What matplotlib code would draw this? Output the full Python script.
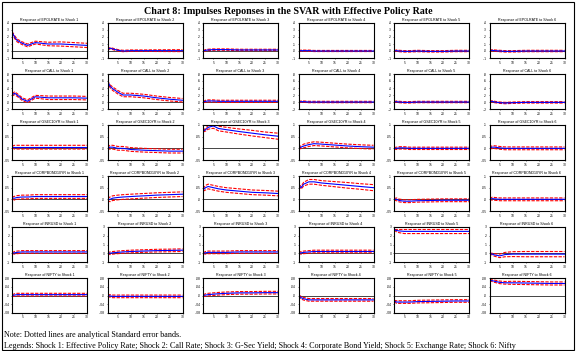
import matplotlib
matplotlib.use("Agg")
import matplotlib.pyplot as plt
from matplotlib.patches import Rectangle
from matplotlib.ticker import FuncFormatter

# Horizontes (periodos)
horizons = [1, 2, 3, 5, 7, 10, 15, 20, 25, 30]

variables = ["EPOLRATE", "CALL", "GSEC10YR", "CORPBOND10YR", "INRUSD", "NIFTY"]

# Resposta (linha azul) e erro padrao (faixas vermelhas) para cada choque 1..6
epol_resp = [
    [0.27, 0.20, 0.15, 0.11, 0.08, 0.12, 0.10, 0.10, 0.09, 0.08],
    [0.02, 0.04, 0.03, 0.01, 0.0, 0.005, 0.005, 0.005, 0.005, 0.005],
    [0.0, 0.01, 0.015, 0.02, 0.02, 0.02, 0.015, 0.015, 0.015, 0.015],
    [0.0, 0.005, 0.005, 0.005, 0.0, 0.0, 0.0, 0.0, 0.0, 0.0],
    [0.0, 0.005, 0.0, -0.005, -0.005, 0.0, -0.005, -0.005, 0.0, 0.0],
    [0.0, 0.01, 0.005, 0.0, -0.005, -0.005, 0.0, 0.0, 0.0, 0.0],
]
epol_se = [
    [0.01, 0.02, 0.02, 0.02, 0.02, 0.02, 0.025, 0.03, 0.03, 0.03],
    [0.005, 0.01, 0.01, 0.01, 0.01, 0.01, 0.01, 0.012, 0.013, 0.014],
    [0.005, 0.01, 0.01, 0.01, 0.01, 0.01, 0.01, 0.01, 0.01, 0.01],
    [0.004, 0.008, 0.008, 0.008, 0.008, 0.008, 0.008, 0.008, 0.008, 0.008],
    [0.005, 0.01, 0.01, 0.01, 0.01, 0.01, 0.01, 0.01, 0.01, 0.01],
    [0.005, 0.01, 0.01, 0.01, 0.01, 0.01, 0.01, 0.01, 0.01, 0.01],
]

call_resp = [
    [0.20, 0.25, 0.20, 0.08, 0.02, 0.15, 0.12, 0.12, 0.12, 0.11],
    [0.60, 0.45, 0.38, 0.28, 0.20, 0.20, 0.17, 0.12, 0.08, 0.05],
    [0.0, 0.02, 0.03, 0.03, 0.02, 0.02, 0.02, 0.02, 0.02, 0.02],
    [0.0, 0.01, 0.01, 0.0, 0.0, 0.0, 0.0, 0.0, 0.0, 0.0],
    [0.0, 0.01, 0.0, -0.01, -0.01, 0.0, 0.0, 0.0, 0.0, 0.0],
    [0.0, 0.02, 0.0, -0.02, -0.03, -0.02, -0.01, -0.01, -0.01, -0.01],
]
call_se = [
    [0.03, 0.04, 0.04, 0.04, 0.04, 0.04, 0.05, 0.05, 0.05, 0.05],
    [0.01, 0.04, 0.05, 0.05, 0.05, 0.05, 0.05, 0.05, 0.05, 0.05],
    [0.01, 0.03, 0.03, 0.03, 0.03, 0.03, 0.03, 0.03, 0.03, 0.03],
    [0.01, 0.02, 0.02, 0.02, 0.02, 0.02, 0.02, 0.02, 0.02, 0.02],
    [0.01, 0.02, 0.02, 0.02, 0.02, 0.02, 0.02, 0.02, 0.02, 0.02],
    [0.01, 0.02, 0.02, 0.02, 0.02, 0.02, 0.02, 0.02, 0.02, 0.02],
]

gsec_resp = [
    [0.005, 0.005, 0.005, 0.005, 0.005, 0.005, 0.005, 0.005, 0.005, 0.005],
    [0.0, 0.005, 0.005, 0.0, 0.0, -0.005, -0.008, -0.01, -0.012, -0.012],
    [0.073, 0.08, 0.09, 0.096, 0.085, 0.08, 0.072, 0.065, 0.058, 0.052],
    [0.0, 0.005, 0.01, 0.016, 0.02, 0.018, 0.014, 0.01, 0.007, 0.005],
    [0.0, 0.0, 0.002, 0.002, 0.0, 0.0, 0.0, 0.0, 0.0, 0.0],
    [0.0, 0.005, 0.005, 0.002, 0.0, 0.0, 0.0, 0.0, 0.0, 0.0],
]
gsec_se = [
    [0.004, 0.008, 0.008, 0.008, 0.008, 0.008, 0.008, 0.008, 0.008, 0.008],
    [0.004, 0.008, 0.008, 0.008, 0.008, 0.008, 0.008, 0.008, 0.008, 0.008],
    [0.003, 0.006, 0.008, 0.01, 0.01, 0.01, 0.011, 0.012, 0.012, 0.013],
    [0.003, 0.006, 0.008, 0.008, 0.008, 0.008, 0.008, 0.008, 0.008, 0.008],
    [0.003, 0.005, 0.005, 0.005, 0.005, 0.005, 0.005, 0.005, 0.005, 0.005],
    [0.003, 0.006, 0.006, 0.006, 0.006, 0.006, 0.006, 0.006, 0.006, 0.006],
]

corp_resp = [
    [0.005, 0.005, 0.008, 0.01, 0.01, 0.012, 0.012, 0.012, 0.012, 0.012],
    [0.0, 0.0, 0.005, 0.008, 0.01, 0.012, 0.015, 0.018, 0.02, 0.022],
    [0.04, 0.05, 0.055, 0.05, 0.045, 0.04, 0.035, 0.03, 0.028, 0.025],
    [0.06, 0.05, 0.065, 0.075, 0.075, 0.07, 0.065, 0.06, 0.055, 0.05],
    [0.0, 0.0, -0.005, -0.008, -0.008, -0.006, -0.005, -0.004, -0.004, -0.004],
    [0.0, 0.003, 0.002, 0.0, 0.0, 0.0, 0.0, 0.0, 0.0, 0.0],
]
corp_se = [
    [0.004, 0.008, 0.008, 0.008, 0.008, 0.008, 0.008, 0.008, 0.008, 0.008],
    [0.005, 0.01, 0.01, 0.01, 0.01, 0.01, 0.01, 0.01, 0.01, 0.01],
    [0.005, 0.01, 0.01, 0.01, 0.01, 0.01, 0.01, 0.01, 0.01, 0.01],
    [0.003, 0.006, 0.008, 0.01, 0.01, 0.01, 0.011, 0.012, 0.012, 0.013],
    [0.003, 0.006, 0.006, 0.006, 0.006, 0.006, 0.006, 0.006, 0.006, 0.006],
    [0.003, 0.006, 0.006, 0.006, 0.006, 0.006, 0.006, 0.006, 0.006, 0.006],
]

inr_resp = [
    [0.0, 0.05, 0.1, 0.15, 0.15, 0.15, 0.15, 0.15, 0.15, 0.15],
    [0.0, 0.0, 0.05, 0.1, 0.15, 0.2, 0.25, 0.3, 0.32, 0.35],
    [0.0, 0.05, 0.1, 0.1, 0.1, 0.1, 0.15, 0.15, 0.15, 0.15],
    [0.0, 0.05, 0.1, 0.15, 0.2, 0.2, 0.2, 0.2, 0.2, 0.2],
    [2.7, 2.6, 2.55, 2.5, 2.5, 2.5, 2.5, 2.5, 2.5, 2.5],
    [0.0, -0.1, -0.2, -0.3, -0.15, -0.1, -0.1, -0.1, -0.1, -0.1],
]
inr_se = [
    [0.05, 0.15, 0.15, 0.15, 0.15, 0.15, 0.15, 0.15, 0.15, 0.15],
    [0.05, 0.15, 0.15, 0.15, 0.15, 0.15, 0.15, 0.15, 0.15, 0.15],
    [0.05, 0.15, 0.15, 0.15, 0.15, 0.15, 0.15, 0.15, 0.15, 0.15],
    [0.05, 0.15, 0.15, 0.15, 0.15, 0.15, 0.15, 0.15, 0.15, 0.15],
    [0.05, 0.15, 0.2, 0.25, 0.25, 0.25, 0.25, 0.25, 0.25, 0.25],
    [0.02, 0.1, 0.15, 0.2, 0.25, 0.28, 0.3, 0.3, 0.3, 0.3],
]

nifty_resp = [
    [0.0, 0.002, 0.004, 0.004, 0.004, 0.004, 0.004, 0.004, 0.004, 0.004],
    [0.0, -0.002, -0.004, -0.004, -0.004, -0.004, -0.004, -0.004, -0.004, -0.004],
    [0.0, 0.002, 0.004, 0.006, 0.008, 0.01, 0.012, 0.012, 0.013, 0.013],
    [0.0, -0.01, -0.015, -0.02, -0.02, -0.02, -0.02, -0.02, -0.02, -0.02],
    [-0.025, -0.03, -0.03, -0.03, -0.03, -0.028, -0.027, -0.026, -0.025, -0.025],
    [0.07, 0.068, 0.065, 0.06, 0.058, 0.058, 0.057, 0.056, 0.055, 0.055],
]
nifty_se = [
    [0.003, 0.006, 0.006, 0.006, 0.006, 0.006, 0.006, 0.006, 0.006, 0.006],
    [0.003, 0.006, 0.006, 0.006, 0.006, 0.006, 0.006, 0.006, 0.006, 0.006],
    [0.003, 0.006, 0.006, 0.006, 0.006, 0.006, 0.006, 0.006, 0.006, 0.006],
    [0.003, 0.006, 0.006, 0.006, 0.006, 0.006, 0.006, 0.006, 0.006, 0.006],
    [0.003, 0.006, 0.006, 0.006, 0.006, 0.006, 0.006, 0.006, 0.006, 0.006],
    [0.002, 0.004, 0.005, 0.006, 0.006, 0.007, 0.007, 0.007, 0.007, 0.007],
]

# escala comum por variavel de resposta (como no EViews)
y_ticks = [
    [-0.1, 0.0, 0.1, 0.2, 0.3, 0.4],
    [-0.2, 0.0, 0.2, 0.4, 0.6, 0.8],
    [-0.05, 0.0, 0.05, 0.10],
    [-0.05, 0.0, 0.05, 0.10],
    [-1, 0, 1, 2, 3],
    [-0.08, -0.04, 0.0, 0.04, 0.08],
]
x_ticks = [5, 10, 15, 20, 25, 30]

title = "Chart 8: Impulses Reponses in the SVAR with Effective Policy Rate"
note = "Note: Dotted lines are analytical Standard error bands."
legend_txt = ("Legends: Shock 1: Effective Policy Rate; Shock 2: Call Rate; Shock 3: G-Sec Yield; "
              "Shock 4: Corporate Bond Yield; Shock 5: Exchange Rate; Shock 6: Nifty")


def eviews_fmt(v, pos):
    s = ("%g" % round(v, 3))
    if s.startswith("0."):
        s = s[1:]
    elif s.startswith("-0."):
        s = "-" + s[2:]
    elif s == "0" and isinstance(v, float) and abs(v) < 1e-9:
        s = ".0"
    return s


def main():
    W, H = 576, 351
    fig = plt.figure(figsize=(W / 100, H / 100), dpi=100)

    # moldura externa
    fig.patches.append(Rectangle((2 / W, 1 / H), (W - 4) / W, (H - 3) / H,
                                 transform=fig.transFigure, fill=False,
                                 edgecolor="black", linewidth=0.8))

    fig.text(0.5, 1 - 12 / H, title, ha="center", va="center",
             family="Liberation Serif", fontweight="bold", fontsize=7.2)

    all_resp = [epol_resp, call_resp, gsec_resp, corp_resp, inr_resp, nifty_resp]
    all_se = [epol_se, call_se, gsec_se, corp_se, inr_se, nifty_se]

    for r in range(6):
        for c in range(6):
            left = 12 + 95.5 * c
            top = 23 + 51 * r
            ax = fig.add_axes([left / W, 1 - (top + 35) / H, 75 / W, 35 / H])

            resp = all_resp[r][c]
            se = all_se[r][c]
            upper = [a + b for a, b in zip(resp, se)]
            lower = [a - b for a, b in zip(resp, se)]

            ax.axhline(0, color="#444444", lw=0.7)
            ax.plot(horizons, upper, color="red", lw=0.8, ls=(0, (3, 1.2)))
            ax.plot(horizons, lower, color="red", lw=0.8, ls=(0, (3, 1.2)))
            ax.plot(horizons, resp, color="blue", lw=0.8)

            ax.set_xlim(1, 30)
            ax.set_ylim(y_ticks[r][0], y_ticks[r][-1])
            ax.set_xticks(x_ticks)
            ax.set_yticks(y_ticks[r])
            ax.yaxis.set_major_formatter(FuncFormatter(eviews_fmt))
            ax.tick_params(labelsize=2.2, length=1, width=0.4, pad=0.8)
            for sp in ax.spines.values():
                sp.set_linewidth(0.8)
            ax.set_title(f"Response of {variables[r]} to Shock {c + 1}",
                         fontsize=2.6, pad=1.5, family="Liberation Sans")

    fig.text(4 / W, 1 - 335 / H, note, ha="left", va="center",
             family="Liberation Serif", fontsize=5.9)
    fig.text(4 / W, 1 - 346.5 / H, legend_txt, ha="left", va="center",
             family="Liberation Serif", fontsize=5.9)

    fig.savefig("out.png", dpi=100)


if __name__ == "__main__":
    main()
